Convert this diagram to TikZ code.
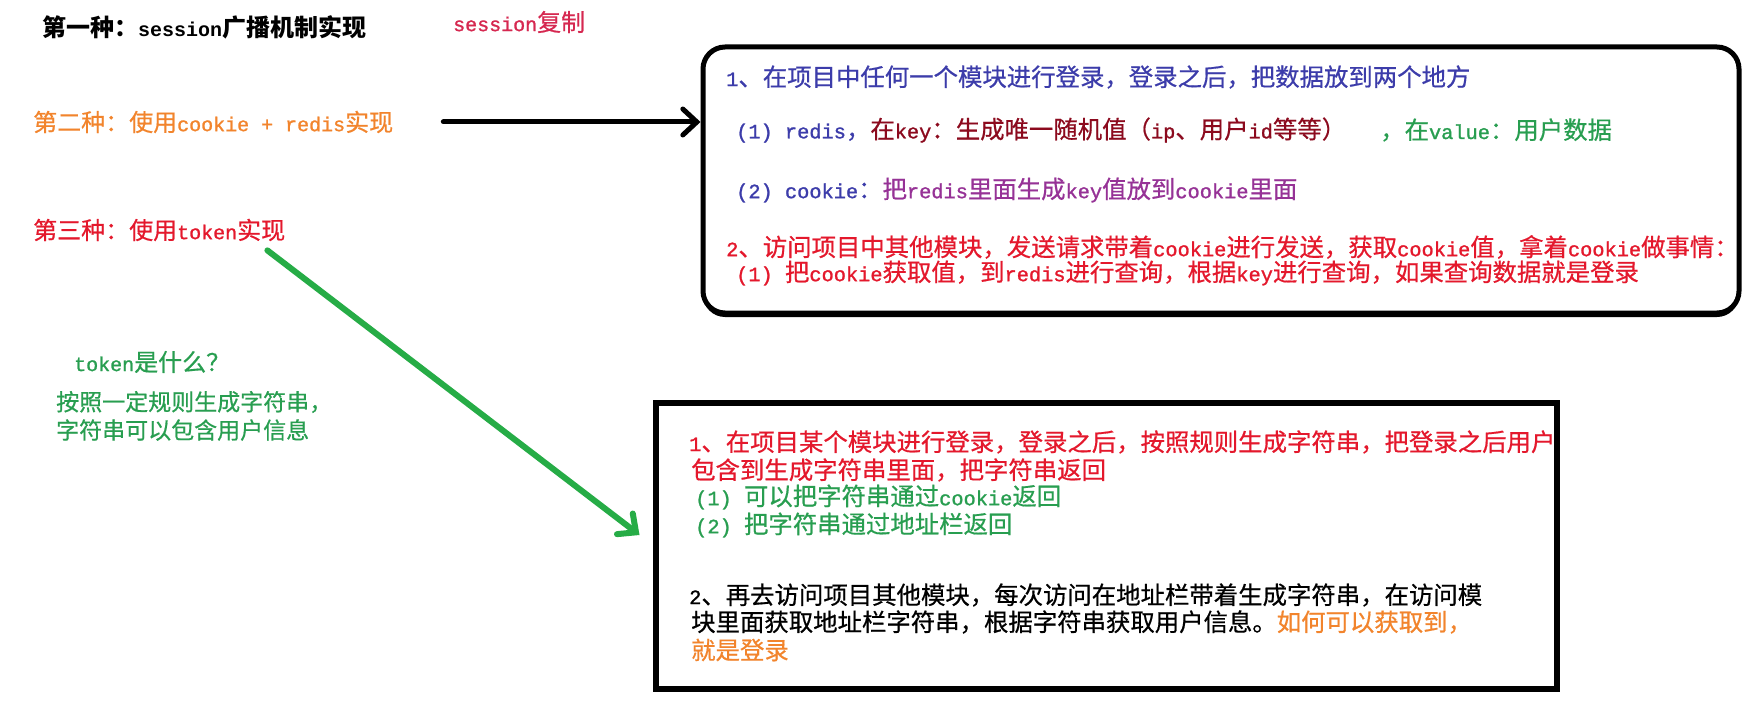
\documentclass[tikz,border=0pt]{standalone}
\usepackage{fontspec}
\setmainfont{Noto Sans CJK SC}[UprightFeatures={FakeBold=0.6}]
\newfontfamily\enfont{Liberation Mono}[Scale=0.833, UprightFeatures={FakeBold=1.2}]
\newcommand{\entxt}[1]{{\enfont #1}}
\usetikzlibrary{arrows.meta,shadows}

\definecolor{sessred}{RGB}{214,40,80}
\definecolor{orangetxt}{RGB}{242,132,44}
\definecolor{redtxt}{RGB}{228,24,44}
\definecolor{greentxt}{RGB}{40,158,80}
\definecolor{greenarrow}{RGB}{38,172,70}
\definecolor{bluetxt}{RGB}{60,60,170}
\definecolor{keyred}{RGB}{140,10,30}
\definecolor{purpletxt}{RGB}{150,50,150}

\begin{document}
\begin{tikzpicture}[x=1pt, y=-1pt,
  txt/.style={anchor=west, inner sep=0pt, font=\fontsize{24}{28}\selectfont},
  boxtxt/.style={txt, font=\fontsize{24.4}{28}\selectfont},
  bigarrow/.style={line width=5pt, line cap=round, line join=round,
    -{Straight Barb[length=14pt, width=26pt, line cap=round]}}]
\useasboundingbox[fill=white] (0,0) rectangle (1761,714);

% the three ways
\node[txt, font=\bfseries\fontsize{24}{28}\selectfont] (first) at (42,27) {第一种：\entxt{session}广播机制实现};
\node[txt, text=sessred] (copy) at (453,22) {\entxt{session}复制};
\node[txt, text=orangetxt] (second) at (33,122) {第二种：使用\entxt{cookie + redis}实现};
\node[txt, text=redtxt] (third) at (33,230) {第三种：使用\entxt{token}实现};

% what is a token
\node[txt, text=greentxt] (what) at (74,362) {\entxt{token}是什么？};
\node[txt, text=greentxt, font=\fontsize{23}{27}\selectfont] (def1) at (56,402) {按照一定规则生成字符串，};
\node[txt, text=greentxt, font=\fontsize{23}{27}\selectfont] (def2) at (56,430) {字符串可以包含用户信息};

% box for cookie + redis
\node[draw, line width=5pt, rounded corners=22pt, fill=white, minimum width=1036pt, minimum height=266pt,
  drop shadow={shadow xshift=0pt, shadow yshift=-4pt, opacity=1, fill=black}] (redisbox) at (1221,180) {};
\node[boxtxt, text=bluetxt] (r1) at (726,77) {\entxt{1}、在项目中任何一个模块进行登录，登录之后，把数据放到两个地方};
\node[boxtxt] (r2) at (736,130) {\textcolor{bluetxt}{\entxt{(1) redis}，}\textcolor{keyred}{在\entxt{key}：生成唯一随机值（\entxt{ip}、用户\entxt{id}等等）}};
\node[boxtxt, text=greentxt] (r2b) at (1380,130) {，在\entxt{value}：用户数据};
\node[boxtxt] (r3) at (736,190) {\textcolor{bluetxt}{\entxt{(2) cookie}：}\textcolor{purpletxt}{把\entxt{redis}里面生成\entxt{key}值放到\entxt{cookie}里面}};
\node[boxtxt, text=redtxt] (r4) at (726,247) {\entxt{2}、访问项目中其他模块，发送请求带着\entxt{cookie}进行发送，获取\entxt{cookie}值，拿着\entxt{cookie}做事情：};
\node[boxtxt, text=redtxt] (r5) at (736,273) {\entxt{(1) }把\entxt{cookie}获取值，到\entxt{redis}进行查询，根据\entxt{key}进行查询，如果查询数据就是登录};

% box for token
\node[draw, line width=6pt, fill=white, minimum width=901pt, minimum height=286pt] (tokenbox) at (1106,546) {};
\node[boxtxt, text=redtxt] (k1) at (689,442) {\entxt{1}、在项目某个模块进行登录，登录之后，按照规则生成字符串，把登录之后用户};
\node[boxtxt, text=redtxt] (k2) at (691,470) {包含到生成字符串里面，把字符串返回};
\node[boxtxt, text=greentxt] (k3) at (695,497) {\entxt{(1) }可以把字符串通过\entxt{cookie}返回};
\node[boxtxt, text=greentxt] (k4) at (695,525) {\entxt{(2) }把字符串通过地址栏返回};
\node[boxtxt] (k5) at (689,595) {\entxt{2}、再去访问项目其他模块，每次访问在地址栏带着生成字符串，在访问模};
\node[boxtxt] (k6) at (691,622) {块里面获取地址栏字符串，根据字符串获取用户信息。\textcolor{orangetxt}{如何可以获取到，}};
\node[boxtxt, text=orangetxt] (k7) at (691,650) {就是登录};

% arrows
\draw[bigarrow] ([xshift=50pt]second.east) -- (second -| redisbox.west);
\draw[bigarrow, greenarrow, line width=6pt] ([shift={(-18,9)}]third.south east) -- ([shift={(-13,-11)}]tokenbox.west);
\end{tikzpicture}
\end{document}
